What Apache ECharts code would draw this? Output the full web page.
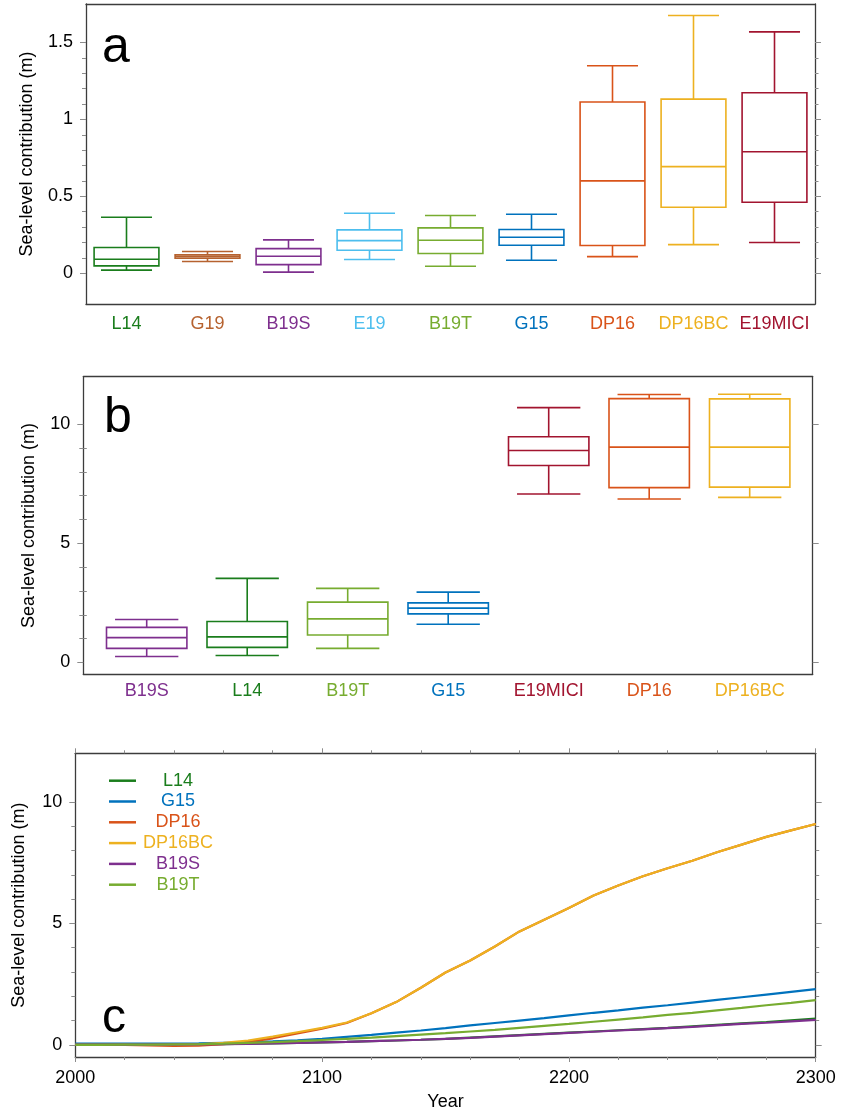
<!DOCTYPE html>
<html>
<head>
<meta charset="utf-8">
<script src="https://cdn.jsdelivr.net/npm/echarts@6/dist/echarts.min.js"></script>
<style>
  html, body { margin: 0; background: #fff; }
  #chart { width: 841px; height: 1113px; }
</style>
</head>
<body>
<div id="chart"></div>
<script>
const FONT = '"Liberation Sans", Arial, Helvetica, sans-serif'
const FRAME = '#3c3c3c'
const TICK = '#8c8c8c'
const YNAME = 'Sea-level contribution (m)'

const palette = {
  L14: '#1a7d1c',
  G19: '#b6622f',
  B19S: '#7e2f8e',
  E19: '#4dbeee',
  B19T: '#77ac30',
  G15: '#0072bd',
  DP16: '#d95319',
  DP16BC: '#edb120',
  E19MICI: '#a2142f'
}

// panel a: contribution at 2100 (m)
const modelsA = ['L14', 'G19', 'B19S', 'E19', 'B19T', 'G15', 'DP16', 'DP16BC', 'E19MICI']
const lowA = [0.02, 0.076, 0.007, 0.089, 0.045, 0.084, 0.108, 0.186, 0.2]
const q1A = [0.048, 0.097, 0.056, 0.149, 0.128, 0.182, 0.18, 0.429, 0.461]
const medA = [0.091, 0.108, 0.11, 0.212, 0.214, 0.234, 0.6, 0.693, 0.79]
const q3A = [0.167, 0.119, 0.16, 0.282, 0.295, 0.284, 1.113, 1.132, 1.173]
const highA = [0.364, 0.141, 0.217, 0.39, 0.375, 0.383, 1.349, 1.675, 1.569]
const majorA = [0, 0.5, 1, 1.5]
const minorA = [0.1, 0.2, 0.3, 0.4, 0.6, 0.7, 0.8, 0.9, 1.1, 1.2, 1.3, 1.4]

// panel b: contribution at 2300 (m)
const modelsB = ['B19S', 'L14', 'B19T', 'G15', 'E19MICI', 'DP16', 'DP16BC']
const lowB = [0.25, 0.29, 0.59, 1.6, 7.07, 6.86, 6.93]
const q1B = [0.59, 0.63, 1.15, 2.04, 8.27, 7.34, 7.36]
const medB = [1.04, 1.07, 1.83, 2.28, 8.9, 9.04, 9.04]
const q3B = [1.47, 1.72, 2.53, 2.5, 9.48, 11.08, 11.07]
const highB = [1.8, 3.53, 3.11, 2.95, 10.7, 11.25, 11.26]
const majorBC = [0, 5, 10]
const minorBC = [1, 2, 3, 4, 6, 7, 8, 9]

// panel c: median trajectories (m)
const yearsC = [2000, 2010, 2020, 2030, 2040, 2050, 2060, 2070, 2080, 2090, 2100,
  2110, 2120, 2130, 2140, 2150, 2160, 2170, 2180, 2190, 2200,
  2210, 2220, 2230, 2240, 2250, 2260, 2270, 2280, 2290, 2300]
const l14C = [0, 0, 0.01, 0.01, 0.02, 0.02, 0.03, 0.05, 0.06, 0.08, 0.1,
  0.12, 0.15, 0.18, 0.21, 0.25, 0.3, 0.35, 0.4, 0.45, 0.5,
  0.55, 0.6, 0.65, 0.7, 0.76, 0.82, 0.88, 0.94, 1.01, 1.08]
const g15C = [0.05, 0.05, 0.05, 0.05, 0.05, 0.06, 0.08, 0.1, 0.14, 0.19, 0.25,
  0.33, 0.41, 0.5, 0.59, 0.69, 0.8, 0.9, 1.0, 1.1, 1.21,
  1.32, 1.42, 1.53, 1.63, 1.74, 1.85, 1.96, 2.07, 2.18, 2.29]
const dp16C = [0, 0, 0, -0.02, -0.04, -0.03, 0.03, 0.12, 0.27, 0.47, 0.67,
  0.9, 1.3, 1.76, 2.35, 2.98, 3.47, 4.05, 4.67, 5.15, 5.63,
  6.15, 6.56, 6.94, 7.27, 7.58, 7.93, 8.24, 8.56, 8.83, 9.09]
const dp16bcC = [0, 0, 0, 0, 0, 0.02, 0.08, 0.18, 0.34, 0.52, 0.7,
  0.92, 1.3, 1.76, 2.35, 2.98, 3.47, 4.05, 4.67, 5.15, 5.63,
  6.15, 6.56, 6.94, 7.27, 7.58, 7.93, 8.24, 8.56, 8.83, 9.09]
const b19sC = [0, 0, 0, 0.01, 0.01, 0.02, 0.03, 0.04, 0.06, 0.08, 0.1,
  0.12, 0.15, 0.18, 0.21, 0.25, 0.29, 0.34, 0.39, 0.44, 0.49,
  0.54, 0.59, 0.64, 0.69, 0.74, 0.8, 0.86, 0.91, 0.97, 1.03]
const b19tC = [0, 0, 0.01, 0.01, 0.02, 0.03, 0.05, 0.08, 0.11, 0.15, 0.2,
  0.25, 0.3, 0.36, 0.42, 0.48, 0.55, 0.62, 0.7, 0.78, 0.86,
  0.95, 1.04, 1.13, 1.23, 1.32, 1.42, 1.52, 1.63, 1.73, 1.84]
const linesC = [
  ['L14', l14C], ['G15', g15C], ['DP16', dp16C],
  ['DP16BC', dp16bcC], ['B19S', b19sC], ['B19T', b19tC]
]

const textBase = { fontFamily: FONT, fontSize: 18, color: '#000' }
const frameLine = { show: true, onZero: false, lineStyle: { color: FRAME, width: 1.3 } }

function makeBox (models) {
  return function (params, api) {
    const i = api.value(0)
    const x = api.coord([i, 0])[0]
    const band = api.size([1, 0])[0]
    const y = [1, 2, 3, 4, 5].map(d => api.coord([i, api.value(d)])[1])
    const half = band * 0.4
    const cap = band * 0.315
    const style = { stroke: palette[models[i]], fill: 'none', lineWidth: 1.6 }
    const line = (x1, y1, x2, y2) => ({ type: 'line', shape: { x1, y1, x2, y2 }, style })
    return {
      type: 'group',
      children: [
        { type: 'rect', shape: { x: x - half, y: y[3], width: half * 2, height: y[1] - y[3] }, style },
        line(x - half, y[2], x + half, y[2]),
        line(x, y[3], x, y[4]),
        line(x, y[1], x, y[0]),
        line(x - cap, y[4], x + cap, y[4]),
        line(x - cap, y[0], x + cap, y[0])
      ]
    }
  }
}

function yFrame (gridIndex, min, max, major, minor, nameGap) {
  const base = { type: 'value', gridIndex, min, max, splitLine: { show: false } }
  return [
    {
      ...base, position: 'left', name: YNAME, nameLocation: 'middle', nameGap, nameTextStyle: textBase,
      axisLine: frameLine,
      axisTick: { show: true, customValues: major, length: 6, lineStyle: { color: TICK } },
      axisLabel: { customValues: major, margin: 13, ...textBase }
    },
    {
      ...base, position: 'left', axisLine: { show: false },
      axisTick: { show: true, customValues: minor, length: 4, lineStyle: { color: TICK } },
      axisLabel: { show: false }
    },
    {
      ...base, position: 'right', axisLine: frameLine,
      axisTick: { show: true, customValues: major, length: 6, lineStyle: { color: TICK } },
      axisLabel: { show: false }
    },
    {
      ...base, position: 'right', axisLine: { show: false },
      axisTick: { show: true, customValues: minor, length: 3.5, lineStyle: { color: TICK } },
      axisLabel: { show: false }
    }
  ]
}

function plainX (gridIndex, position) {
  return {
    type: 'value', gridIndex, position, min: 0, max: 1,
    axisLine: frameLine, axisTick: { show: false }, axisLabel: { show: false }, splitLine: { show: false }
  }
}

function catX (gridIndex, models, margin, showLine) {
  return {
    type: 'category', gridIndex, data: models, position: 'bottom',
    axisLine: showLine ? frameLine : { show: false, onZero: false },
    axisTick: { alignWithLabel: true, length: 5, lineStyle: { color: TICK } },
    axisLabel: { interval: 0, margin, fontFamily: FONT, fontSize: 18, color: v => palette[v] }
  }
}

function yearX (position) {
  return {
    type: 'value', gridIndex: 3, position, min: 2000, max: 2300, interval: 100,
    axisLine: frameLine,
    axisTick: { show: true, length: 5, lineStyle: { color: TICK } },
    minorTick: { show: true, splitNumber: 5, length: 3, lineStyle: { color: TICK } },
    axisLabel: position === 'bottom'
      ? { margin: 12, formatter: v => String(v), ...textBase }
      : { show: false },
    name: position === 'bottom' ? 'Year' : '',
    nameLocation: 'middle', nameGap: 36, nameTextStyle: textBase,
    splitLine: { show: false }
  }
}

const boxData = (models, lo, q1, med, q3, hi) =>
  models.map((m, i) => [i, lo[i], q1[i], med[i], q3[i], hi[i]])

const chart = echarts.init(document.getElementById('chart'))
chart.setOption({
  animation: false,
  backgroundColor: '#fff',
  textStyle: { fontFamily: FONT },
  grid: [
    { left: 86, top: 4, width: 729, height: 300, outerBoundsMode: 'none' },
    { left: 83.3, top: 376.7, width: 729.4, height: 297.6, outerBoundsMode: 'none' },
    { left: 96.45, top: 376.7, width: 703.5, height: 297.6, outerBoundsMode: 'none' },
    { left: 75.3, top: 753.3, width: 740.4, height: 303.7, outerBoundsMode: 'none' }
  ],
  xAxis: [
    catX(0, modelsA, 11, true),
    plainX(0, 'top'),
    plainX(1, 'bottom'),
    plainX(1, 'top'),
    catX(2, modelsB, 8, false),
    yearX('bottom'),
    yearX('top')
  ],
  yAxis: [
    ...yFrame(0, -0.2, 1.75, majorA, minorA, 50),
    ...yFrame(1, -0.5, 12, majorBC, minorBC, 45),
    { type: 'value', gridIndex: 2, min: -0.5, max: 12, show: false },
    ...yFrame(3, -0.5, 12, majorBC, minorBC, 47)
  ],
  legend: {
    orient: 'vertical',
    left: 104,
    top: 766.7,
    icon: 'rect',
    itemWidth: 27,
    itemHeight: 2.5,
    itemGap: 2.8,
    selectedMode: false,
    data: linesC.map(([name]) => ({ name, textStyle: { color: palette[name] } })),
    formatter: n => '{t|' + n + '}',
    textStyle: {
      fontFamily: FONT,
      fontSize: 18,
      rich: { t: { width: 74, align: 'center', fontFamily: FONT, fontSize: 18, lineHeight: 20 } }
    }
  },
  graphic: [
    { type: 'text', x: 102, y: 48, style: { text: 'a', fontFamily: FONT, fontSize: 50, fill: '#000', verticalAlign: 'middle' } },
    { type: 'text', x: 104, y: 418, style: { text: 'b', fontFamily: FONT, fontSize: 50, fill: '#000', verticalAlign: 'middle' } },
    { type: 'text', x: 102, y: 1019, style: { text: 'c', fontFamily: FONT, fontSize: 48, fill: '#000', verticalAlign: 'middle' } }
  ],
  series: [
    {
      type: 'custom', name: 'a', xAxisIndex: 0, yAxisIndex: 0,
      renderItem: makeBox(modelsA),
      encode: { x: 0, y: [1, 2, 3, 4, 5] },
      data: boxData(modelsA, lowA, q1A, medA, q3A, highA)
    },
    {
      type: 'custom', name: 'b', xAxisIndex: 4, yAxisIndex: 8,
      renderItem: makeBox(modelsB),
      encode: { x: 0, y: [1, 2, 3, 4, 5] },
      data: boxData(modelsB, lowB, q1B, medB, q3B, highB)
    },
    ...linesC.map(([name, vals]) => ({
      type: 'line', name, xAxisIndex: 5, yAxisIndex: 9,
      data: yearsC.map((yr, i) => [yr, vals[i]]),
      showSymbol: false, symbol: 'none',
      lineStyle: { width: 2.2, color: palette[name] },
      itemStyle: { color: palette[name] }
    }))
  ]
})
</script>
</body>
</html>
